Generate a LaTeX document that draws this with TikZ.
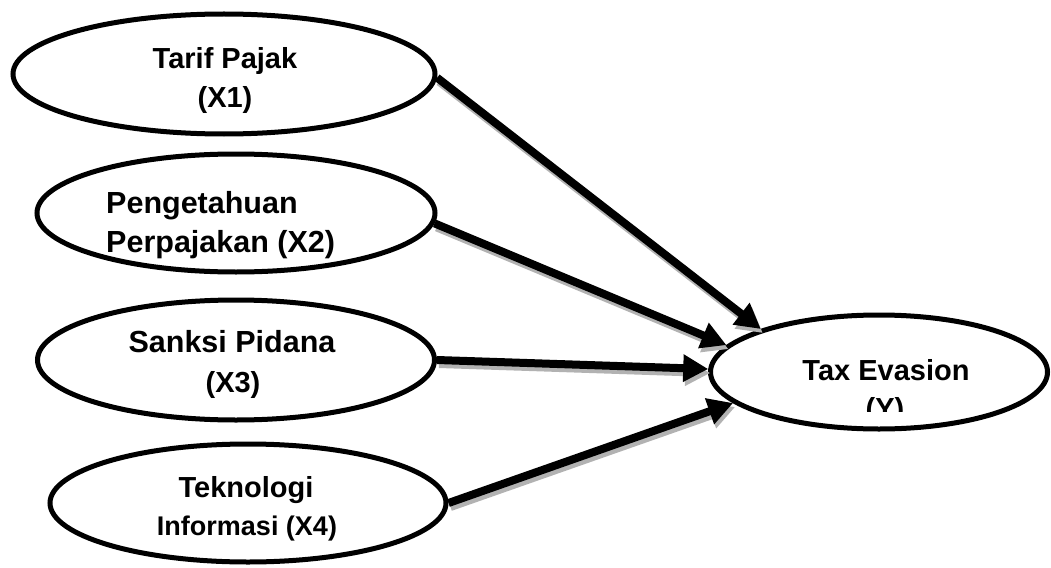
\documentclass[tikz,border=0pt]{standalone}
\usepackage{fontspec}
\setmainfont{Liberation Sans}
\usetikzlibrary{shapes.geometric,arrows.meta}
\begin{document}
\begin{tikzpicture}[x=1pt,y=-1pt,
  var/.style={ellipse, draw, line width=5pt, inner sep=0pt, fill=white},
  txt/.style={font=\fontsize{29}{36}\selectfont\bfseries, inner sep=0pt, anchor=base},
  txtb/.style={txt, font=\fontsize{30.5}{36}\selectfont\bfseries},
  conn/.style={line width=8pt, -{Triangle[length=25pt,width=26pt]},
    preaction={draw=gray!60, line width=8pt, -{Triangle[length=25pt,width=26pt]},
      transform canvas={shift={(2pt,-4pt)}}}}]
\useasboundingbox (0,0) rectangle (1051,567);
% variables
\node[var, minimum width=422pt, minimum height=120pt] (x1) at (224,74) {};
\node[var, minimum width=398pt, minimum height=118pt] (x2) at (236,213) {};
\node[var, minimum width=397pt, minimum height=120pt] (x3) at (236,360) {};
\node[var, minimum width=396pt, minimum height=118pt] (x4) at (248,503) {};
\node[var, minimum width=337pt, minimum height=114pt] (y) at (879,372) {};
% texts
\node[txt] (t1a) at (225,69) {Tarif Pajak};
\node[txt] (t1b) at (225,108) {(X1)};
\node[txtb, anchor=base west] (t2a) at (106,213) {Pengetahuan};
\node[txtb, anchor=base west] (t2b) at (106,252) {Perpajakan (X2)};
\node[txtb] (t3a) at (232,352) {Sanksi Pidana};
\node[txt] (t3b) at (233,392) {(X3)};
\node[txt] (t4a) at (246,497) {Teknologi};
\node[txt, font=\fontsize{27}{32}\selectfont\bfseries] (t4b) at (247,535) {Informasi (X4)};
\node[txt] (t5a) at (886,380) {Tax Evasion};
\begin{scope}
\clip (700,300) rectangle (1051,411);
\node[txt] (t5b) at (885,418) {(Y)};
\end{scope}
% connectors
\draw[conn] (x1.-1) -- (y.160);
\draw[conn] (x2.-3.5) -- (y.170);
\draw[conn] (x3.0) -- (y.179);
\draw[conn] (x4.0) -- (y.192);
\end{tikzpicture}
\end{document}
